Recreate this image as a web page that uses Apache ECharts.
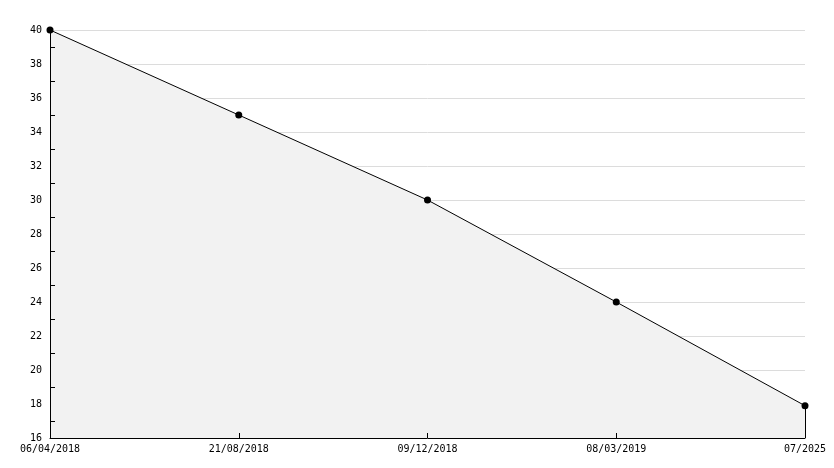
<!DOCTYPE html>
<html><head><meta charset="utf-8">
<script src="https://cdn.jsdelivr.net/npm/echarts@6/dist/echarts.min.js"></script>
<style>html,body{margin:0;padding:0;background:#fff}#c{width:834px;height:468px}</style>
</head><body><div id="c"></div>
<script>
const categories = ['06/04/2018', '21/08/2018', '09/12/2018', '08/03/2019', '07/2025'];
const values = [40, 35, 30, 24, 17.9];
const yMin = 16, yMax = 40, yStep = 2;
const font = 'DejaVu Sans Mono';
const chart = echarts.init(document.getElementById('c'));
chart.setOption({
  animation: false,
  backgroundColor: '#fff',
  grid: { left: 50, right: 29, top: 30, bottom: 30 },
  xAxis: {
    type: 'category', data: categories, boundaryGap: false, z: 5,
    axisLine: { lineStyle: { color: '#000', width: 1 } },
    axisTick: { inside: true, length: 5, lineStyle: { color: '#000' } },
    axisLabel: { color: '#000', fontFamily: font, fontSize: 10, margin: 6, interval: 0 },
    splitLine: { show: false }
  },
  yAxis: [{
    type: 'value', min: yMin, max: yMax, interval: yStep, z: 5,
    axisLine: { show: true, lineStyle: { color: '#000', width: 1 } },
    axisTick: { inside: true, length: 5, lineStyle: { color: '#000' } },
    minorTick: { show: true, splitNumber: 2, length: 5, lineStyle: { color: '#000' } },
    axisLabel: { color: '#000', fontFamily: font, fontSize: 10, margin: 8 },
    splitLine: { show: false }
  }, {
    type: 'value', min: yMin, max: yMax, interval: yStep, z: 0, position: 'left',
    axisLine: { show: false }, axisTick: { show: false }, axisLabel: { show: false },
    splitLine: { show: true, lineStyle: { color: '#dcdcdc', width: 1 } }
  }],
  series: [{
    type: 'line', data: values, yAxisIndex: 0,
    symbol: 'circle', symbolSize: 7, showSymbol: true,
    itemStyle: { color: '#000' },
    lineStyle: { color: '#000', width: 1 },
    areaStyle: { color: '#f2f2f2', opacity: 1 },
    markLine: {
      silent: true, symbol: ['none', 'none'], label: { show: false },
      lineStyle: { color: '#000', width: 1, type: 'solid' },
      data: [[
        { coord: [categories[categories.length - 1], values[values.length - 1]] },
        { coord: [categories[categories.length - 1], yMin] }
      ]]
    }
  }]
});
</script></body></html>
